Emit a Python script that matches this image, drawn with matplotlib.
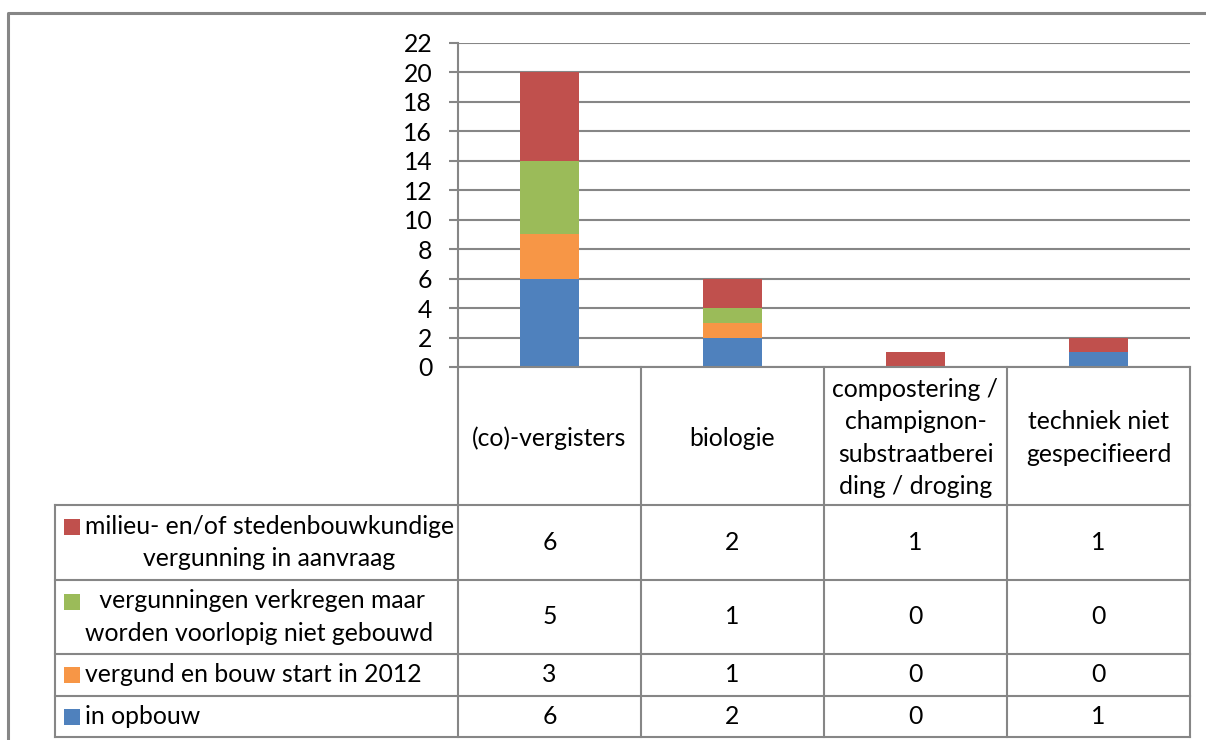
import matplotlib
matplotlib.use("Agg")
import matplotlib.pyplot as plt
import numpy as np

categories = ["(co)-vergisters", "biologie",
              "compostering /\nchampignon-\nsubstraatberei\nding / droging",
              "techniek niet\ngespecifieerd"]
series_names = ["in opbouw",
                "vergund en bouw start in 2012",
                " vergunningen verkregen maar\nworden voorlopig niet gebouwd",
                "milieu- en/of stedenbouwkundige\nvergunning in aanvraag"]
in_opbouw = [6, 2, 0, 1]
vergund = [3, 1, 0, 0]
verkregen = [5, 1, 0, 0]
aanvraag = [6, 2, 1, 1]
series_values = [in_opbouw, vergund, verkregen, aanvraag]
colors = ["#4F81BD", "#F79646", "#9BBB59", "#C0504D"]
yticks = list(range(0, 23, 2))

plt.rcParams['font.family'] = ['Lato', 'DejaVu Sans']
FS = 17.8
LS = 1.5
GRAY = "#868686"

W, H = 1206, 740
fig = plt.figure(figsize=(W / 100, H / 100), dpi=100)

# plot area in pixels
px0, px1 = 458, 1190
py_top, py_bot = 42.7, 367

ax = fig.add_axes([px0 / W, 1 - py_bot / H, (px1 - px0) / W, (py_bot - py_top) / H])
x = np.arange(len(categories)) + 0.5
bottom = np.zeros(len(categories))
for vals, c in zip(series_values, colors):
    ax.bar(x, vals, width=0.32, bottom=bottom, color=c, zorder=3)
    bottom += np.array(vals)

ax.set_xlim(0, len(categories))
ax.set_ylim(0, 22)
ax.set_yticks(yticks)
ax.set_xticks([])
ax.grid(axis='y', color=GRAY, lw=1.5, zorder=0)
for s in ["top", "right", "bottom"]:
    ax.spines[s].set_visible(False)
ax.spines["left"].set_color(GRAY)
ax.spines["left"].set_linewidth(1.5)
ax.tick_params(axis='y', length=6.5, width=1.5, color=GRAY, pad=12, labelsize=FS)

# table overlay in pixel coordinates
tab = fig.add_axes([0, 0, 1, 1], zorder=5)
tab.set_xlim(0, W)
tab.set_ylim(H, 0)
tab.axis("off")
tab.patch.set_alpha(0)

# outer frame
tab.plot([8, 8, W + 5], [H + 5, 13, 13], color=GRAY, lw=2.2)

col_w = (px1 - px0) / len(categories)
col_edges = [px0 + i * col_w for i in range(len(categories) + 1)]
leg_x = 55
row_edges = [py_bot, 505, 580, 654, 696, 737]

kw = dict(color=GRAY, lw=1.5)
# horizontal lines
tab.plot([px0, px1], [row_edges[0]] * 2, **kw)
for y in row_edges[1:]:
    tab.plot([leg_x, px1], [y, y], **kw)
# vertical lines
for xe in col_edges:
    tab.plot([xe, xe], [row_edges[0], row_edges[-1]], **kw)
tab.plot([leg_x, leg_x], [row_edges[1], row_edges[-1]], **kw)

# category header
for i, cat in enumerate(categories):
    tab.text((col_edges[i] + col_edges[i + 1]) / 2, (row_edges[0] + row_edges[1]) / 2 + 2,
             cat, ha='center', va='center', fontsize=FS, linespacing=LS)

# rows: series in reverse order (top row = last series)
line_h = 31
for r, k in enumerate(reversed(range(len(series_names)))):
    y0, y1 = row_edges[r + 1], row_edges[r + 2]
    yc = (y0 + y1) / 2
    name = series_names[k]
    nlines = name.count("\n") + 1
    tab.text(85, yc, name, ha='left', va='center', multialignment='center',
             fontsize=FS, linespacing=LS)
    my = yc - (nlines - 1) * line_h / 2
    tab.add_patch(plt.Rectangle((64, my - 8), 16, 16, color=colors[k], lw=0))
    for i, v in enumerate(series_values[k]):
        tab.text((col_edges[i] + col_edges[i + 1]) / 2, yc, str(v),
                 ha='center', va='center', fontsize=FS)

fig.savefig("out.png", dpi=100)
